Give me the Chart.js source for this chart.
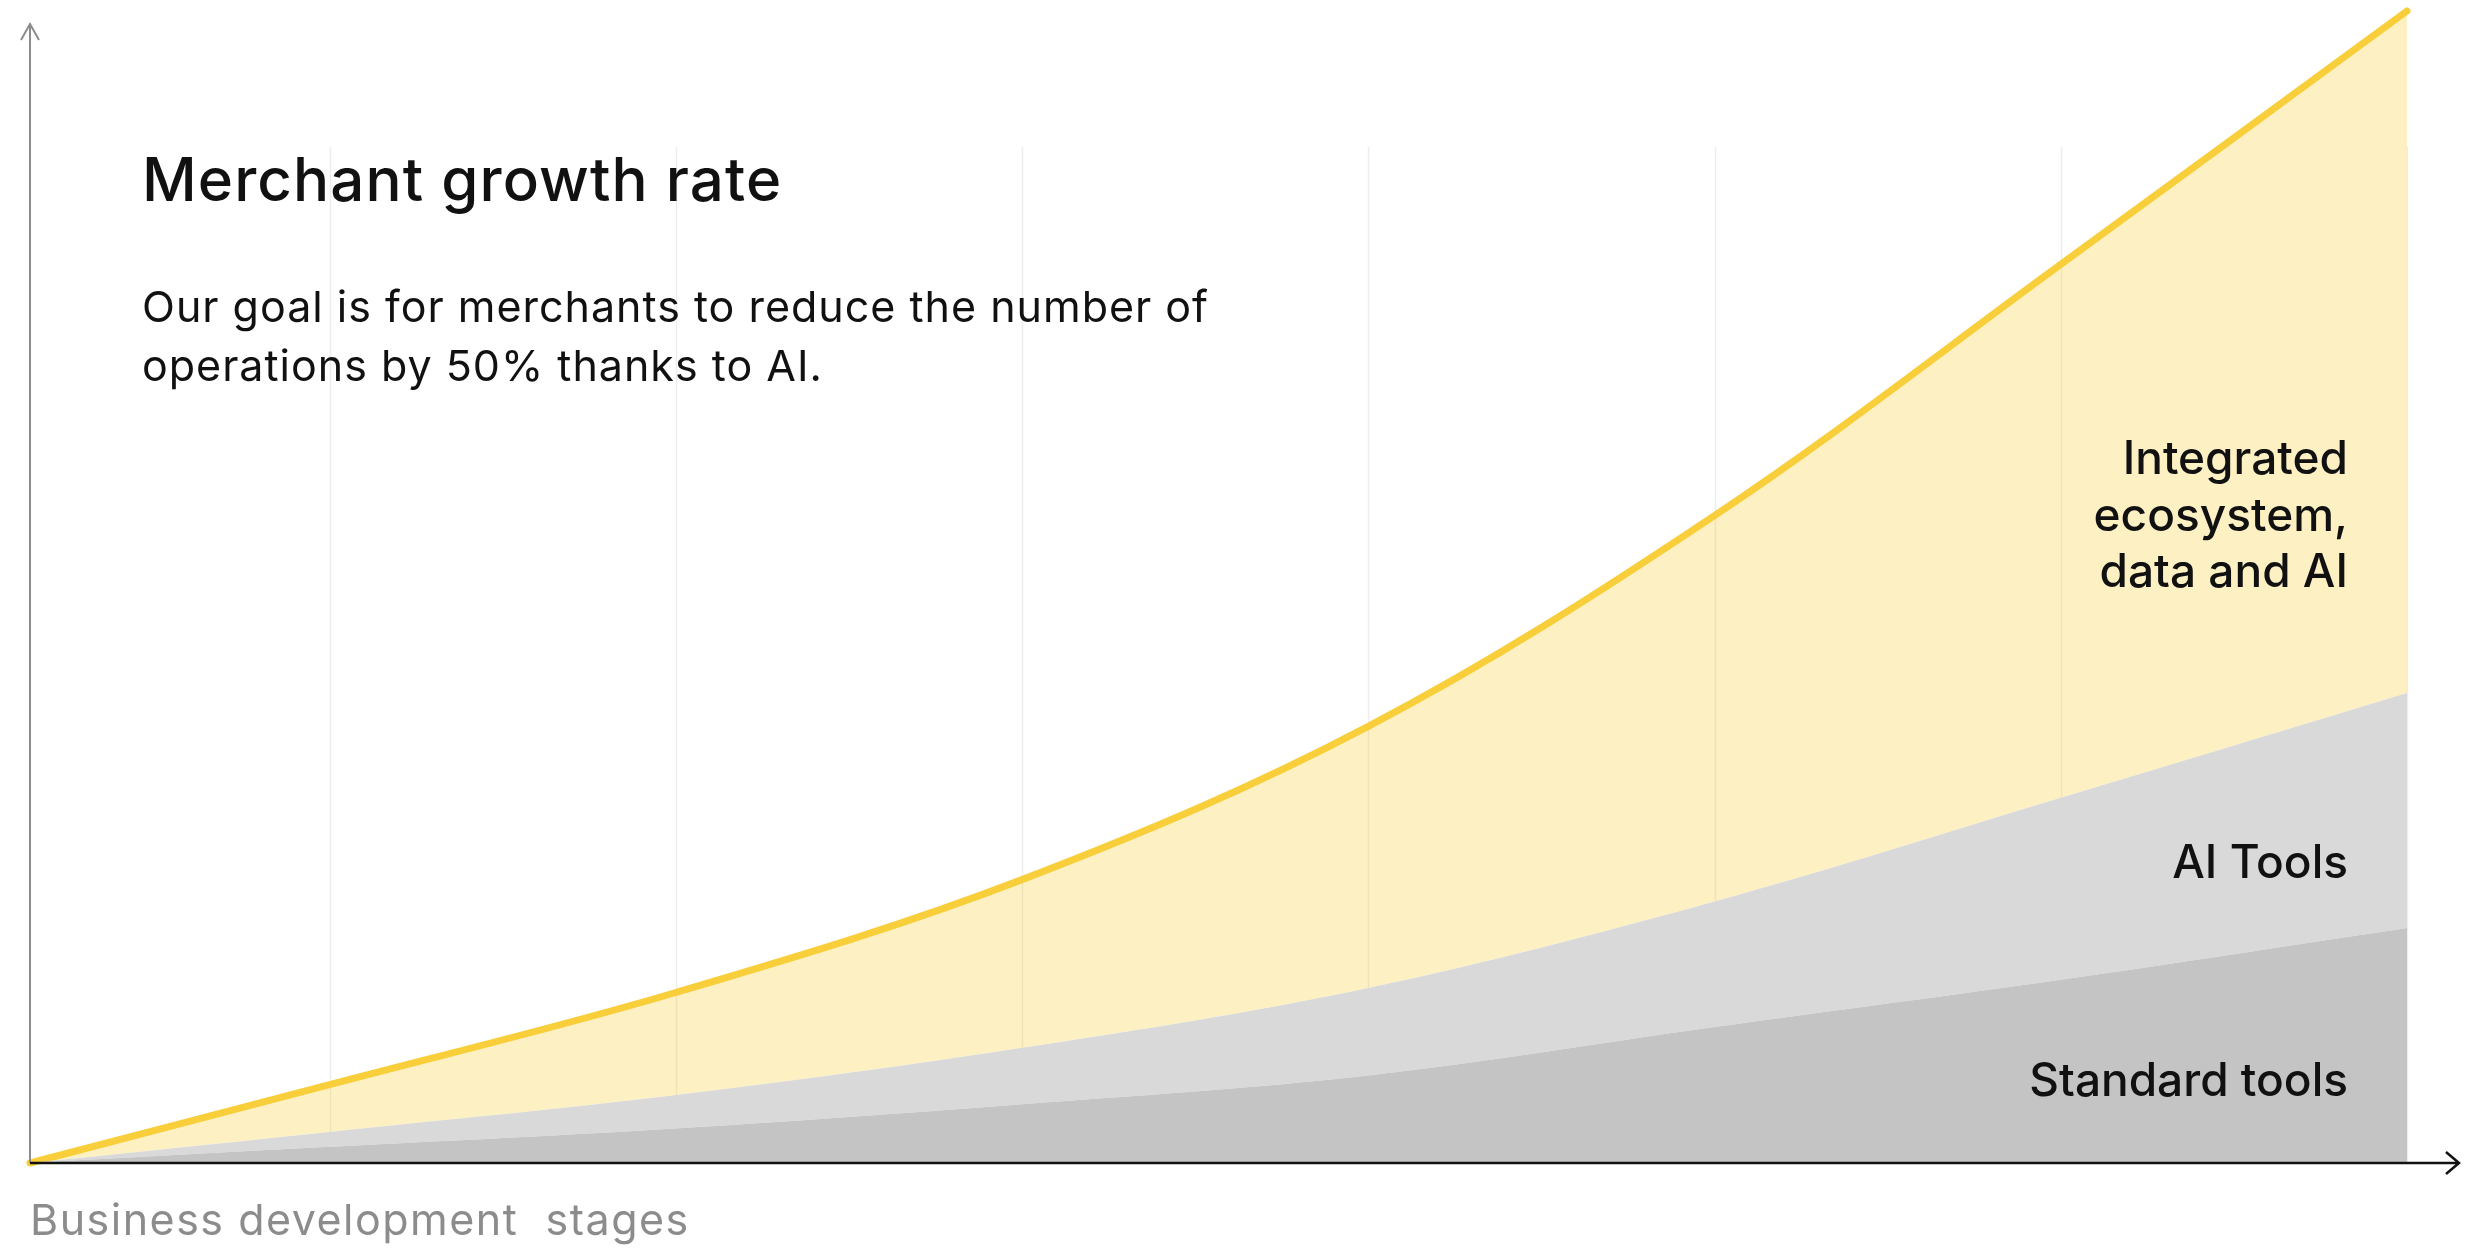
<!DOCTYPE html>
<html>
<head>
<meta charset="utf-8">
<script src="https://cdn.jsdelivr.net/npm/chart.js@4.4.1/dist/chart.umd.min.js"></script>
<style>
  html, body { margin: 0; padding: 0; background: #fff; }
  #wrap { position: relative; width: 2485px; height: 1249px; overflow: hidden; font-family: Inter, "Noto Sans", sans-serif; }
  #chart { position: absolute; left: 0; top: 0; width: 2485px !important; height: 1249px !important; }
  .txt { position: absolute; color: #111; white-space: pre; }
  #title { left: 142px; top: 149px; font-size: 60px; line-height: 60px; font-weight: 500; letter-spacing: 1.1px; }
  #subtitle { left: 142px; top: 277px; font-size: 43px; line-height: 59px; font-weight: 400; letter-spacing: 1px; }
  .lbl { right: 137px; font-size: 46px; line-height: 56.5px; font-weight: 500; text-align: right; letter-spacing: 0px; }
  #lblIntegrated { top: 429px; }
  #lblAi { top: 833px; }
  #lblStandard { top: 1051px; }
  #xTitle { left: 30px; top: 1191px; font-size: 43px; line-height: 57px; color: #8c8c8c; letter-spacing: 1.5px; }
</style>
</head>
<body>
<div id="wrap">
  <canvas id="chart"></canvas>
  <div class="txt" id="title">Merchant growth rate</div>
  <div class="txt" id="subtitle">Our goal is for merchants to reduce the number of
operations by 50% thanks to AI.</div>
  <div class="txt lbl" id="lblIntegrated">Integrated
ecosystem,
data and AI</div>
  <div class="txt lbl" id="lblAi">AI Tools</div>
  <div class="txt lbl" id="lblStandard">Standard tools</div>
  <div class="txt" id="xTitle">Business development  stages</div>
</div>
<script>
// stages (grid lines sit on the integer stages)
const stageTicks = [1, 2, 3, 4, 5, 6, 7];
const stagePositions = [0.135, 1, 2, 3, 4, 5, 6, 7];

// stacked layers
const standardTools = [0, 1.4, 3.0, 5.1, 7.6, 11.8, 15.9, 20.4];
const aiTools = [0, 1.3, 2.9, 4.9, 7.6, 10.9, 15.8, 20.4];
const integratedEcosystem = [0, 4.1, 8.9, 14.6, 22.7, 33.5, 46.3, 59.2];

const toPoints = (values) => values.map((v, i) => ({ x: stagePositions[i], y: v }));

const frame = {
  id: "frame",
  beforeDatasetsDraw(chart) {
    const { ctx, chartArea, scales } = chart;
    ctx.save();
    ctx.strokeStyle = "#ededed";
    ctx.lineWidth = 1.5;
    stageTicks.forEach((v) => {
      const px = Math.round(scales.x.getPixelForValue(v)) + 0.5;
      ctx.beginPath();
      ctx.moveTo(px, 147);
      ctx.lineTo(px, chartArea.bottom);
      ctx.stroke();
    });
    ctx.restore();
  },
  afterDraw(chart) {
    const { ctx, chartArea } = chart;
    const x0 = chartArea.left;
    const y0 = chartArea.bottom;
    ctx.save();
    // y axis
    ctx.strokeStyle = "#8c8c8c";
    ctx.lineWidth = 2;
    ctx.beginPath();
    ctx.moveTo(x0, y0);
    ctx.lineTo(x0, 24);
    ctx.moveTo(x0 - 9, 40);
    ctx.lineTo(x0, 24);
    ctx.lineTo(x0 + 9, 40);
    ctx.stroke();
    // x axis
    ctx.strokeStyle = "#111";
    ctx.lineWidth = 2.5;
    ctx.beginPath();
    ctx.moveTo(x0, y0);
    ctx.lineTo(2459, y0);
    ctx.moveTo(2446, y0 - 11);
    ctx.lineTo(2459, y0);
    ctx.lineTo(2446, y0 + 11);
    ctx.stroke();
    ctx.restore();
  },
};

const ctx = document.getElementById("chart").getContext("2d");

new Chart(ctx, {
  type: "line",
  data: {
    datasets: [
      {
        label: "Standard tools",
        data: toPoints(standardTools),
        fill: "origin",
        backgroundColor: "#c4c4c4",
        borderColor: "transparent",
        borderWidth: 0,
      },
      {
        label: "AI Tools",
        data: toPoints(aiTools),
        fill: "-1",
        backgroundColor: "#d9d9d9",
        borderColor: "transparent",
        borderWidth: 0,
      },
      {
        label: "Integrated ecosystem, data and AI",
        data: toPoints(integratedEcosystem),
        fill: "-1",
        backgroundColor: "rgba(248, 207, 58, 0.3)",
        borderColor: "#f8cf3a",
        borderWidth: 7,
        clip: 12,
      },
    ],
  },
  options: {
    responsive: true,
    maintainAspectRatio: false,
    animation: false,
    layout: { padding: { left: 30, right: 78, top: 11, bottom: 86 } },
    elements: {
      point: { radius: 0, hoverRadius: 0 },
      line: { tension: 0.35, borderCapStyle: "round" },
    },
    plugins: {
      legend: { display: false },
      tooltip: { enabled: false },
    },
    scales: {
      x: { type: "linear", min: 0.135, max: 7, display: false },
      y: { min: 0, max: 100, stacked: true, display: false },
    },
  },
  plugins: [frame],
});
</script>
</body>
</html>
